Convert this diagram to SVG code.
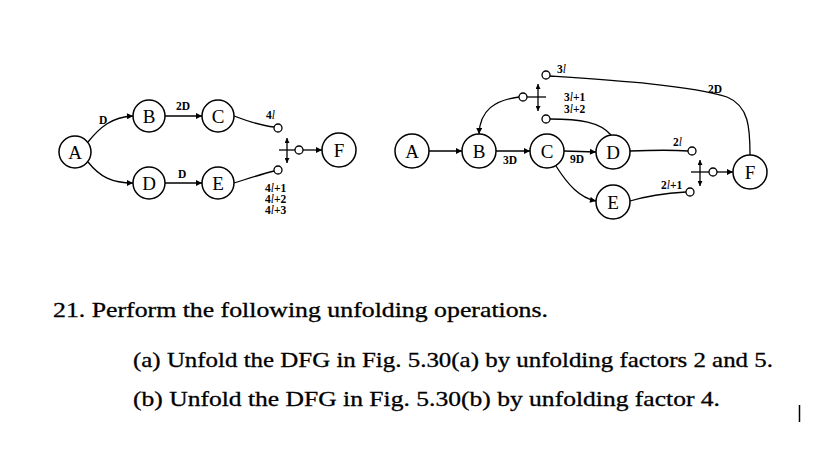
<svg xmlns="http://www.w3.org/2000/svg" width="817" height="462" viewBox="0 0 817 462">
<defs>
<marker id="ar" viewBox="0 0 10 10" refX="10" refY="5" markerWidth="8" markerHeight="6" markerUnits="userSpaceOnUse" orient="auto"><path d="M0,0 L10,5 L0,10 z" fill="#000"/></marker>
<marker id="ar2" viewBox="0 0 10 10" refX="10" refY="5" markerWidth="7" markerHeight="5" markerUnits="userSpaceOnUse" orient="auto-start-reverse"><path d="M0,0 L10,5 L0,10 z" fill="#000"/></marker>
</defs>
<style>
.n{fill:#fff;stroke:#000;stroke-width:1.5}
.nt{font-family:"Liberation Serif",serif;font-size:19px;text-anchor:middle;fill:#000}
.e{fill:none;stroke:#000;stroke-width:1.3}
.p{fill:#fff;stroke:#000;stroke-width:1.3}
.l{font-family:"Liberation Serif",serif;font-size:11.5px;font-weight:bold;fill:#000}
.i{font-style:italic;font-weight:normal}
.t{font-family:"Liberation Serif",serif;font-size:21px;fill:#000;stroke:#000;stroke-width:0.3}
</style>
<rect width="817" height="462" fill="#fff"/>

<g id="connectors">
<!-- left graph -->
<path class="e" d="M88,142 C100,127 112,117 133,116" marker-end="url(#ar)"/>
<path class="e" d="M88,162 C100,177 112,183 133,183" marker-end="url(#ar)"/>
<path class="e" d="M165,116 L202,116" marker-end="url(#ar)"/>
<path class="e" d="M165,183 L202,183" marker-end="url(#ar)"/>
<path class="e" d="M234,116 C250,122 262,126 274,127"/>
<path class="e" d="M234,183 C250,178 262,174 274,171"/>
<path class="e" d="M279,150 L295,150"/>
<path class="e" d="M287,138 L287,163" marker-start="url(#ar2)" marker-end="url(#ar2)"/>
<path class="e" d="M303,150 L322,150" marker-end="url(#ar)"/>
<!-- right graph -->
<path class="e" d="M429,151 L462,151" marker-end="url(#ar)"/>
<path class="e" d="M496,151 L530,151" marker-end="url(#ar)"/>
<path class="e" d="M564,151 L596,152" marker-end="url(#ar)"/>
<path class="e" d="M556,166 C568,185 580,198 596,201" marker-end="url(#ar)"/>
<path class="e" d="M630,151 C655,150 675,150 688,151"/>
<path class="e" d="M630,201 C650,195 670,193 686,192"/>
<path class="e" d="M691,172 L709,172"/>
<path class="e" d="M700,160 L700,186" marker-start="url(#ar2)" marker-end="url(#ar2)"/>
<path class="e" d="M717,172 L733,172" marker-end="url(#ar)"/>
<path class="e" d="M750,155 C750,128 749,106 727,97 C690,85 610,80 550,76"/>
<path class="e" d="M550,119 C580,119 600,122 611,135"/>
<path class="e" d="M527,97 L546,97"/>
<path class="e" d="M538,84 L538,111" marker-start="url(#ar2)" marker-end="url(#ar2)"/>
<path class="e" d="M519,97 C495,100 480,110 479,134" marker-end="url(#ar)"/>
<!-- ports -->
<circle class="p" cx="278" cy="128" r="4"/>
<circle class="p" cx="278" cy="170" r="4"/>
<circle class="p" cx="299" cy="150" r="4"/>
<circle class="p" cx="692" cy="151" r="4"/>
<circle class="p" cx="690" cy="192" r="4"/>
<circle class="p" cx="713" cy="172" r="4"/>
<circle class="p" cx="546" cy="75" r="4"/>
<circle class="p" cx="546" cy="119" r="4"/>
<circle class="p" cx="523" cy="97" r="4"/>
<!-- labels -->
<text class="l" x="99" y="124">D</text>
<text class="l" x="176" y="110">2D</text>
<text class="l" x="178" y="178">D</text>
<text class="l" x="266" y="119">4<tspan class="i">l</tspan></text>
<text class="l" x="265" y="192">4<tspan class="i">l</tspan>+1</text>
<text class="l" x="265" y="203">4<tspan class="i">l</tspan>+2</text>
<text class="l" x="265" y="214">4<tspan class="i">l</tspan>+3</text>
<text class="l" x="503" y="164">3D</text>
<text class="l" x="570" y="163">9D</text>
<text class="l" x="673" y="146">2<tspan class="i">l</tspan></text>
<text class="l" x="661" y="189">2<tspan class="i">l</tspan>+1</text>
<text class="l" x="557" y="73">3<tspan class="i">l</tspan></text>
<text class="l" x="564" y="101">3<tspan class="i">l</tspan>+1</text>
<text class="l" x="564" y="113">3<tspan class="i">l</tspan>+2</text>
<text class="l" x="708" y="93">2D</text>
</g>

<g id="a1"><circle class="n" cx="75" cy="152" r="16"/><text class="nt" x="75" y="158.5">A</text></g>
<g id="b1"><circle class="n" cx="149" cy="116" r="16"/><text class="nt" x="149" y="122.5">B</text></g>
<g id="c1"><circle class="n" cx="218" cy="116" r="16"/><text class="nt" x="218" y="122.5">C</text></g>
<g id="d1"><circle class="n" cx="149" cy="183" r="16"/><text class="nt" x="149" y="189.5">D</text></g>
<g id="e1"><circle class="n" cx="218" cy="183" r="16"/><text class="nt" x="218" y="189.5">E</text></g>
<g id="f1"><circle class="n" cx="339" cy="150" r="17"/><text class="nt" x="339" y="156.5">F</text></g>

<g id="a2"><circle class="n" cx="412" cy="151" r="17"/><text class="nt" x="412" y="157.5">A</text></g>
<g id="b2"><circle class="n" cx="479" cy="151" r="17"/><text class="nt" x="479" y="157.5">B</text></g>
<g id="c2"><circle class="n" cx="547" cy="151" r="17"/><text class="nt" x="547" y="157.5">C</text></g>
<g id="d2"><circle class="n" cx="613" cy="152" r="17"/><text class="nt" x="613" y="158.5">D</text></g>
<g id="e2"><circle class="n" cx="613" cy="202" r="17"/><text class="nt" x="613" y="208.5">E</text></g>
<g id="f2"><circle class="n" cx="750" cy="172" r="17"/><text class="nt" x="750" y="178.5">F</text></g>

<g id="text">
<text class="t" x="53" y="317" textLength="495" lengthAdjust="spacingAndGlyphs">21. Perform the following unfolding operations.</text>
<text class="t" x="133" y="367" textLength="640" lengthAdjust="spacingAndGlyphs">(a) Unfold the DFG in Fig. 5.30(a) by unfolding factors 2 and 5.</text>
<text class="t" x="133" y="406" textLength="587" lengthAdjust="spacingAndGlyphs">(b) Unfold the DFG in Fig. 5.30(b) by unfolding factor 4.</text>
</g>
<line x1="799.5" y1="405" x2="799.5" y2="422" stroke="#000" stroke-width="1.5"/>
</svg>
